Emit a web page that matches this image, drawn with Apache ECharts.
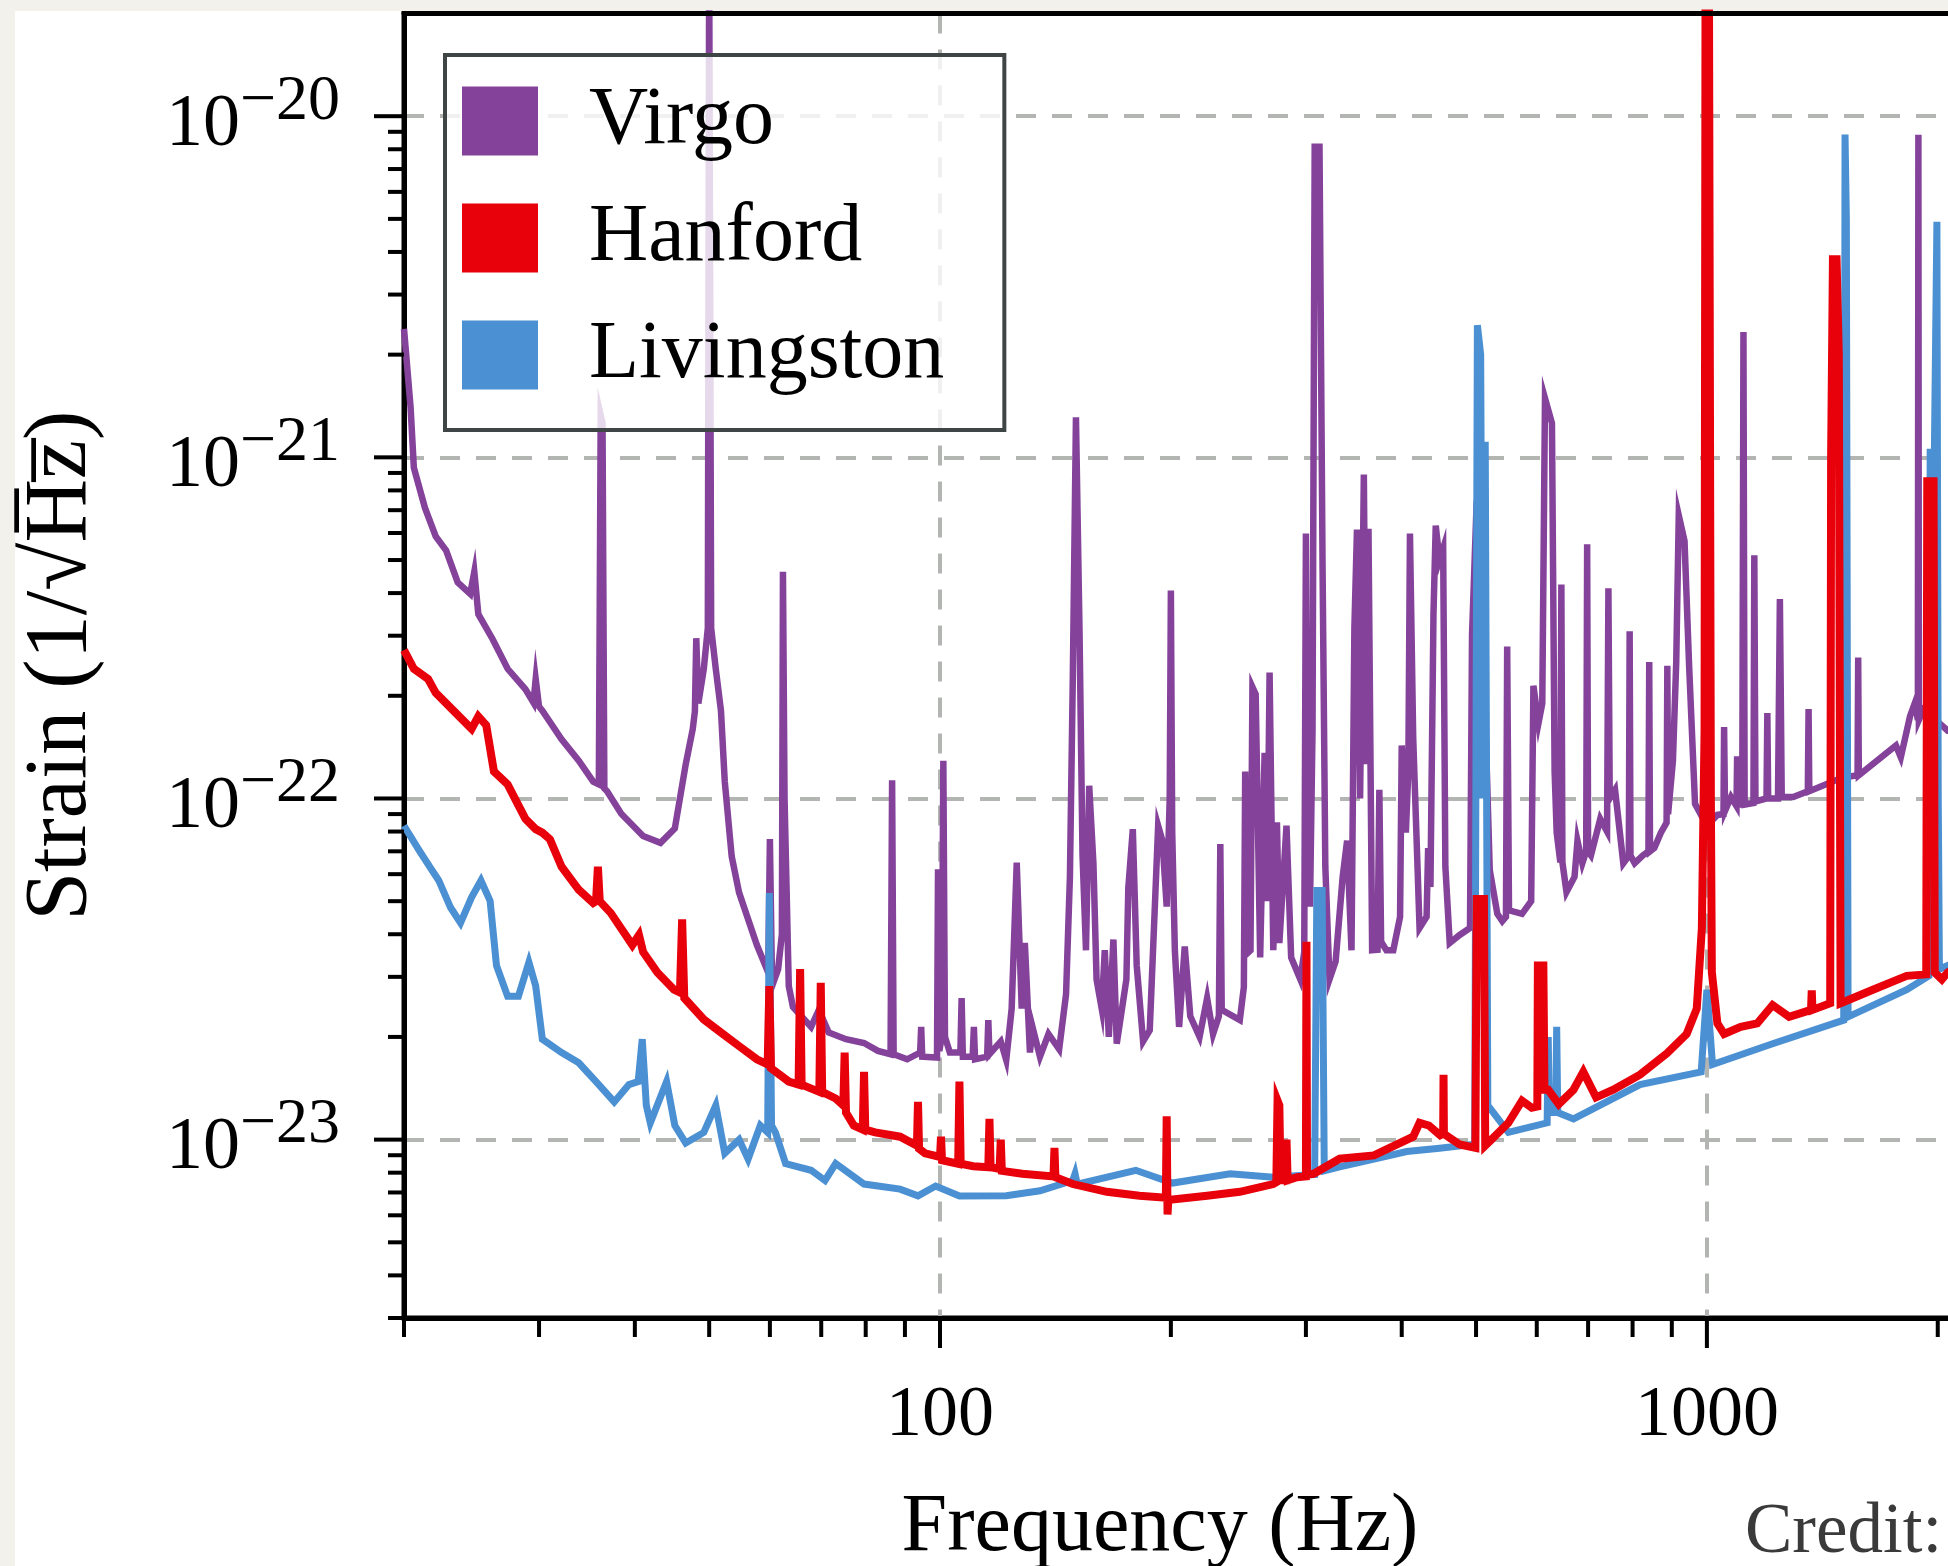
<!DOCTYPE html>
<html>
<head>
<meta charset="utf-8">
<title>Strain noise</title>
<script src="https://cdn.jsdelivr.net/npm/echarts@6/dist/echarts.min.js"></script>
<style>
html, body { margin: 0; padding: 0; background: #fff; }
#container { width: 1948px; height: 1566px; }
</style>
</head>
<body>
<div id="container"></div>
<script>
// [frequency Hz, strain 1/sqrt(Hz)]
var virgo = [
	[20.0, 2.38e-21], [20.4, 1.40e-21], [20.6, 9.33e-22], [21.3, 7.11e-22], [22.0, 5.86e-22], [22.7, 5.33e-22],
	[23.5, 4.30e-22], [24.4, 3.98e-22], [24.7, 4.62e-22], [25.0, 3.47e-22], [26.1, 2.93e-22], [27.3, 2.40e-22],
	[28.8, 2.09e-22], [29.5, 1.91e-22], [29.7, 2.24e-22], [30.0, 1.86e-22], [30.3, 1.81e-22], [32.1, 1.49e-22],
	[33.8, 1.29e-22], [35.3, 1.12e-22], [35.9, 1.10e-22], [36.1, 1.33e-21], [36.3, 1.26e-21], [36.5, 1.07e-22],
	[36.8, 1.05e-22], [38.4, 9.02e-23], [41.0, 7.76e-23], [43.2, 7.41e-23], [45.1, 8.17e-23], [46.6, 1.26e-22],
	[47.6, 1.60e-22], [47.9, 1.80e-22], [48.1, 2.95e-22], [48.4, 1.90e-22], [49.2, 2.40e-22], [49.8, 3.16e-22],
	[50.0, 3.0e-20], [50.3, 3.16e-22], [51.0, 2.40e-22], [51.8, 1.81e-22], [52.4, 1.12e-22], [53.5, 6.76e-23],
	[54.7, 5.30e-23], [57.7, 3.72e-23], [59.7, 3.09e-23], [60.0, 7.6e-23], [60.4, 2.82e-23], [61.5, 3.16e-23],
	[62.2, 4.0e-23], [62.4, 4.62e-22], [62.7, 1.0e-22], [63.5, 2.82e-23], [64.3, 2.45e-23], [67.9, 2.14e-23],
	[69.5, 2.40e-23], [71.6, 2.06e-23], [75.4, 1.97e-23], [79.6, 1.92e-23], [83.0, 1.82e-23], [86.2, 1.78e-23],
	[86.6, 1.13e-22], [87.0, 1.78e-23], [90.6, 1.72e-23], [94.2, 1.80e-23], [94.5, 2.14e-23], [94.8, 1.75e-23],
	[99.1, 1.74e-23], [99.4, 6.2e-23], [99.8, 1.82e-23], [100.5, 2.0e-23], [101.0, 1.29e-22], [101.5, 2.0e-23],
	[103, 1.80e-23], [106.3, 1.80e-23], [106.7, 2.60e-23], [107.1, 1.75e-23], [110.3, 1.75e-23], [110.7, 2.14e-23],
	[111.1, 1.72e-23], [115.2, 1.75e-23], [115.6, 2.24e-23], [116, 1.78e-23], [120, 1.94e-23], [122, 1.71e-23],
	[124, 2.42e-23], [125.9, 6.49e-23], [127.8, 2.42e-23], [129, 3.77e-23], [131, 1.80e-23], [132, 2.14e-23],
	[135, 1.75e-23], [138.5, 2.04e-23], [143, 1.84e-23], [146, 2.67e-23], [147.7, 5.89e-23], [149, 2.29e-22],
	[150.4, 1.31e-21], [152, 3.16e-22], [153.4, 6.81e-23], [155, 3.59e-23], [156.5, 1.09e-22], [158.5, 6.46e-23],
	[160, 2.95e-23], [162.5, 2.42e-23], [164, 3.59e-23], [166, 2.0e-23], [168.3, 3.86e-23], [170, 1.91e-23],
	[175, 2.95e-23], [176, 5.46e-23], [178.4, 8.13e-23], [180.5, 3.24e-23], [184, 1.94e-23], [187.7, 2.09e-23],
	[190.6, 4.82e-23], [192.5, 8.32e-23], [195, 7.52e-23], [197.5, 4.82e-23], [199.3, 1.0e-22], [200, 4.07e-22],
	[200.8, 8.0e-23], [202.4, 3.59e-23], [205, 2.14e-23], [208.5, 3.68e-23], [212, 2.30e-23], [218, 2.0e-23],
	[223, 2.60e-23], [227, 2.04e-23], [231, 2.3e-23], [232, 7.35e-23], [233, 2.4e-23], [246, 2.24e-23],
	[249, 2.8e-23], [250, 1.20e-22], [251, 3.5e-23], [254, 3.59e-23], [255.5, 2.12e-22], [258, 2.02e-22],
	[261.5, 3.42e-23], [265, 1.36e-22], [267, 5.0e-23], [269, 2.34e-22], [272, 3.59e-23], [275, 8.51e-23],
	[277, 3.77e-23], [283, 8.32e-23], [287, 3.42e-23], [295, 2.95e-23], [298.5, 3.55e-23], [300, 5.98e-22],
	[301.5, 6.0e-23], [303.7, 4.82e-23], [306, 1.58e-22], [308, 8.13e-21], [312.5, 8.13e-21], [315.4, 4.68e-22],
	[318, 6.31e-23], [322, 2.95e-23], [328, 3.33e-23], [335, 5.89e-23], [339.5, 7.52e-23], [344, 3.59e-23],
	[347, 3.16e-22], [349.7, 6.14e-22], [353, 1.0e-22], [357, 8.91e-22], [359.5, 1.26e-22], [362, 6.17e-22],
	[366, 3.59e-23], [372, 3.6e-23], [374, 1.06e-22], [376, 3.8e-23], [382, 3.59e-23], [390, 3.59e-23],
	[398, 4.5e-23], [400, 1.43e-22], [405, 7.94e-23], [408, 1.2e-22], [410, 5.98e-22], [414, 1.51e-22],
	[422, 4.17e-23], [431, 4.5e-23], [433, 7.16e-23], [436, 5.5e-23], [440, 3.47e-22], [443, 6.31e-22],
	[448, 5.01e-22], [453, 5.42e-22], [456, 6.31e-23], [462, 3.77e-23], [476, 3.98e-23], [491, 4.17e-23],
	[494, 3.02e-22], [501, 7.46e-22], [508, 1.01e-22], [515, 1.50e-22], [521, 6.17e-23], [533, 4.59e-23],
	[541, 4.37e-23], [547, 4.5e-23], [549, 2.79e-22], [552, 4.7e-23], [574, 4.59e-23], [590, 5.0e-23],
	[594, 2.14e-22], [603, 1.66e-22], [610, 1.9e-22], [615, 1.49e-21], [628, 1.26e-21], [633, 1.2e-22],
	[637, 7.94e-23], [644, 6.5e-23], [646, 4.24e-22], [648, 6.5e-23], [656, 5.32e-23], [672, 5.89e-23],
	[678, 7.52e-23], [688, 6.46e-23], [696, 7.0e-23], [698, 5.56e-22], [700, 7.0e-23], [706, 6.81e-23],
	[726, 8.71e-23], [741, 8.0e-23], [744, 4.13e-22], [747, 1.0e-22], [759, 1.06e-22], [778, 6.46e-23],
	[791, 6.8e-23], [793, 3.09e-22], [795, 6.8e-23], [805, 6.46e-23], [825, 6.81e-23], [839, 7.0e-23],
	[841, 2.51e-22], [843, 7.0e-23], [854, 7.16e-23], [871, 7.94e-23], [886, 8.5e-23], [888, 2.45e-22],
	[890, 9.0e-23], [903, 1.29e-22], [912, 2.5e-22], [919, 6.76e-22], [935, 5.69e-22], [948, 2.45e-22],
	[965, 9.64e-23], [1000, 8.32e-23], [1032, 8.95e-23], [1051, 9.0e-23], [1053, 1.62e-22], [1056, 9.2e-23],
	[1075, 1.01e-22], [1093, 9.5e-23], [1095, 1.33e-22], [1098, 9.6e-23], [1112, 9.6e-23], [1116, 2.33e-21],
	[1120, 9.6e-23], [1150, 9.7e-23], [1153, 5.16e-22], [1157, 9.8e-23], [1196, 1.0e-22], [1199, 1.78e-22],
	[1202, 1.0e-22], [1238, 1.0e-22], [1245, 3.84e-22], [1252, 1.01e-22], [1296, 1.01e-22], [1354, 1.05e-22],
	[1357, 1.83e-22], [1360, 1.05e-22], [1499, 1.15e-22], [1572, 1.17e-22], [1575, 2.59e-22], [1578, 1.17e-22],
	[1764, 1.43e-22], [1790, 1.32e-22], [1840, 1.74e-22], [1868, 1.91e-22], [1884, 1.7e-22], [1887, 8.83e-21],
	[1890, 1.7e-22], [1915, 1.82e-22], [2011, 1.66e-22], [2061, 1.58e-22], [2100, 1.58e-22]
];

var hanford = [
	[20.0, 2.72e-22], [20.6, 2.40e-22], [21.5, 2.24e-22], [22.0, 2.04e-22], [23.2, 1.81e-22], [24.5, 1.60e-22],
	[25.0, 1.74e-22], [25.6, 1.64e-22], [26.2, 1.20e-22], [27.3, 1.10e-22], [28.2, 9.55e-23], [28.8, 8.71e-23],
	[29.7, 8.13e-23], [30.3, 7.94e-23], [31.0, 7.59e-23], [32.1, 6.31e-23], [33.8, 5.40e-23], [35.3, 4.94e-23],
	[35.6, 5.0e-23], [35.8, 6.31e-23], [36.0, 5.0e-23], [37.2, 4.62e-23], [39.7, 3.72e-23], [40.5, 3.98e-23],
	[41.0, 3.55e-23], [42.8, 3.09e-23], [45.0, 2.75e-23], [45.8, 2.7e-23], [46.1, 4.42e-23], [46.4, 2.6e-23],
	[49.2, 2.25e-23], [51.8, 2.06e-23], [54.7, 1.88e-23], [57.7, 1.72e-23], [59.6, 1.66e-23], [59.9, 2.82e-23],
	[60.2, 1.62e-23], [63.5, 1.48e-23], [65.4, 1.45e-23], [65.7, 3.16e-23], [66.0, 1.45e-23], [69.6, 1.38e-23],
	[69.9, 2.88e-23], [70.2, 1.38e-23], [73.1, 1.32e-23], [74.8, 1.26e-23], [75.1, 1.80e-23], [75.4, 1.2e-23],
	[77.2, 1.10e-23], [79.3, 1.07e-23], [79.6, 1.58e-23], [79.9, 1.07e-23], [82.3, 1.05e-23], [88.7, 1.02e-23],
	[93.3, 9.6e-24], [93.6, 1.29e-23], [93.9, 9.4e-24], [95.6, 9.12e-24], [100.0, 8.9e-24], [100.3, 1.02e-23],
	[100.6, 8.7e-24], [105.6, 8.5e-24], [106.0, 1.48e-23], [106.4, 8.5e-24], [110.5, 8.36e-24], [115.6, 8.3e-24],
	[116.0, 1.15e-23], [116.4, 8.3e-24], [119.6, 8.2e-24], [120.0, 1.0e-23], [120.4, 8.1e-24], [128, 7.94e-24],
	[140.6, 7.8e-24], [141, 9.46e-24], [141.4, 7.76e-24], [149, 7.41e-24], [165, 7.03e-24], [182, 6.85e-24],
	[197, 6.76e-24], [197.5, 1.17e-23], [198, 6.03e-24], [198.5, 6.7e-24], [201, 6.68e-24], [223, 6.85e-24],
	[246, 7.03e-24], [272, 7.41e-24], [274.5, 7.5e-24], [275.5, 1.30e-23], [277, 1.26e-23], [278, 7.6e-24],
	[282.5, 7.6e-24], [283, 1.0e-23], [284, 7.6e-24], [292, 7.76e-24], [300, 7.8e-24], [300.5, 3.80e-23],
	[301, 7.9e-24], [307, 7.94e-24], [332, 8.79e-24], [368, 8.99e-24], [414, 1.02e-23], [422, 1.12e-23],
	[434, 1.10e-23], [449, 1.03e-23], [453, 1.04e-23], [453.5, 1.55e-23], [454, 1.04e-23], [476, 9.68e-24],
	[499, 9.46e-24], [501, 5.07e-23], [512, 5.07e-23], [514, 9.6e-24], [522, 9.93e-24], [551, 1.12e-23],
	[574, 1.30e-23], [591, 1.24e-23], [601, 1.25e-23], [602, 3.24e-23], [612, 3.24e-23], [614, 1.4e-23],
	[621, 1.40e-23], [641, 1.27e-23], [670, 1.40e-23], [690, 1.58e-23], [717, 1.33e-23], [755, 1.40e-23],
	[818, 1.55e-23], [887, 1.79e-23], [941, 2.04e-23], [970, 2.42e-23], [985, 4.17e-23], [993, 1.58e-22],
	[996, 3.0e-20], [1006, 3.0e-20], [1012, 1.0e-22], [1015, 3.09e-23], [1032, 2.19e-23], [1053, 2.04e-23],
	[1107, 2.14e-23], [1163, 2.19e-23], [1218, 2.48e-23], [1280, 2.29e-23], [1367, 2.4e-23], [1370, 2.74e-23],
	[1373, 2.4e-23], [1448, 2.51e-23], [1452, 1.0e-21], [1460, 3.81e-21], [1476, 3.81e-21], [1486, 2.0e-21],
	[1494, 2.51e-23], [1513, 2.54e-23], [1640, 2.74e-23], [1822, 3.02e-23], [1932, 3.05e-23], [1938, 8.51e-22],
	[1975, 8.51e-22], [1982, 3.09e-23], [2025, 2.95e-23], [2061, 3.09e-23], [2100, 3.16e-23]
];

var livingston = [
	[20.0, 8.32e-23], [20.9, 7.08e-23], [21.6, 6.31e-23], [22.2, 5.75e-23], [23.0, 4.79e-23], [23.7, 4.32e-23],
	[24.5, 5.13e-23], [25.2, 5.75e-23], [25.9, 5.01e-23], [26.4, 3.24e-23], [27.3, 2.63e-23], [28.2, 2.63e-23],
	[29.1, 3.31e-23], [29.7, 2.82e-23], [30.3, 1.97e-23], [32.1, 1.80e-23], [33.8, 1.68e-23], [35.6, 1.48e-23],
	[37.6, 1.29e-23], [39.3, 1.45e-23], [40.4, 1.48e-23], [40.9, 1.97e-23], [41.4, 1.26e-23], [41.9, 1.12e-23],
	[44.0, 1.48e-23], [45.1, 1.10e-23], [46.6, 9.77e-24], [49.2, 1.05e-23], [51.0, 1.26e-23], [52.4, 9.12e-24],
	[54.7, 1.0e-23], [56.2, 8.77e-24], [58.3, 1.10e-23], [59.6, 1.05e-23], [59.9, 5.28e-23], [60.3, 1.1e-23],
	[61.0, 1.05e-23], [62.9, 8.51e-24], [67.9, 8.13e-24], [70.8, 7.59e-24], [73.1, 8.51e-24], [79.6, 7.41e-24],
	[88.7, 7.16e-24], [93.6, 6.84e-24], [98.7, 7.31e-24], [106, 6.84e-24], [122, 6.85e-24], [135, 7.08e-24],
	[149, 7.59e-24], [150, 7.94e-24], [151, 7.4e-24], [180, 8.13e-24], [201, 7.46e-24], [239, 7.94e-24],
	[272, 7.76e-24], [308, 7.9e-24], [310, 5.37e-23], [315, 5.37e-23], [317, 8.1e-24], [332, 8.32e-24],
	[368, 8.77e-24], [406, 9.23e-24], [448, 9.44e-24], [498, 9.7e-24], [502, 2.44e-21], [507, 2.0e-21],
	[510, 1.0e-22], [514, 1.11e-21], [518, 1.26e-23], [551, 1.05e-23], [619, 1.12e-23], [621, 2.0e-23],
	[623, 1.2e-23], [635, 1.2e-23], [637, 2.14e-23], [639, 1.2e-23], [670, 1.15e-23], [818, 1.45e-23],
	[983, 1.58e-23], [1000, 2.75e-23], [1017, 1.66e-23], [1218, 1.91e-23], [1508, 2.24e-23], [1514, 8.83e-21],
	[1520, 5.01e-21], [1528, 2.29e-23], [1822, 2.75e-23], [1948, 3.02e-23], [1955, 1.06e-21], [1975, 6.31e-22],
	[1995, 4.90e-21], [2003, 1.0e-22], [2010, 3.16e-23], [2061, 3.24e-23], [2100, 3.31e-23]
];

// axis range and tick positions
var xMin = 20, xMax = 2100;
var yMin = 3e-24, yMax = 2e-20;
var xMajorTicks = [100, 1000];
var xMinorTicks = [20, 30, 40, 50, 60, 70, 80, 90, 200, 300, 400, 500, 600, 700, 800, 900, 2000];
var yMajorTicks = [1e-23, 1e-22, 1e-21, 1e-20];
var yMinorTicks = [3e-24, 4e-24, 5e-24, 6e-24, 7e-24, 8e-24, 9e-24,
	2e-23, 3e-23, 4e-23, 5e-23, 6e-23, 7e-23, 8e-23, 9e-23,
	2e-22, 3e-22, 4e-22, 5e-22, 6e-22, 7e-22, 8e-22, 9e-22,
	2e-21, 3e-21, 4e-21, 5e-21, 6e-21, 7e-21, 8e-21, 9e-21];

var FONT = '"Liberation Serif", "DejaVu Serif", serif';
var colVirgo = '#84429a', colHanford = '#e8000b', colLiv = '#4a90d2';
var gridLine = { color: '#b3b5b3', width: 4, type: [20, 16] };

function isPow10(v) {
	var e = Math.log10(v);
	return Math.abs(e - Math.round(e)) < 1e-6;
}

// draws tick marks through the axes' scales (outside the plot)
function tickSeries(values, onX, len, width) {
	var data = [];
	for (var i = 0; i < values.length; i++) {
		data.push(onX ? [values[i], yMin] : [xMin, values[i]]);
	}
	return {
		type: 'custom', silent: true, clip: false, z: 6, data: data,
		renderItem: function (params, api) {
			var p = api.coord([api.value(0), api.value(1)]);
			var shape = onX ? { x1: p[0], y1: p[1], x2: p[0], y2: p[1] + len }
				: { x1: p[0] - len, y1: p[1], x2: p[0], y2: p[1] };
			return { type: 'line', shape: shape, style: { stroke: '#000', lineWidth: width } };
		}
	};
}

function lineSeries(name, data, color, width) {
	return {
		name: name, type: 'line', data: data, symbol: 'none', showSymbol: false, silent: true,
		itemStyle: { color: color }, lineStyle: { color: color, width: width, join: 'miter' },
		emphasis: { disabled: true }
	};
}

var dom = document.getElementById('container');
var myChart = echarts.init(dom, null, { renderer: 'canvas' });

var option = {
	backgroundColor: '#fff',
	animation: false,
	graphic: [
		{ type: 'rect', left: 0, top: 0, z: 0, shape: { width: 15, height: 1566 }, style: { fill: '#f3f1eb' } },
		{ type: 'rect', left: 0, top: 0, z: 0, shape: { width: 1948, height: 11 }, style: { fill: '#f3f1eb' } },
		{ type: 'text', left: 1745, top: 1498, z: 10,
			style: { text: 'Credit:', fontSize: 71, fontFamily: FONT, fill: '#3a3a3a' } }
	],
	legend: {
		data: ['Virgo', 'Hanford', 'Livingston'],
		orient: 'vertical', left: 445, top: 55,
		icon: 'rect', itemWidth: 76, itemHeight: 69, itemGap: 35,
		padding: [25, 60, 34, 17],
		backgroundColor: 'rgba(255,255,255,0.8)',
		borderColor: '#3f4444', borderWidth: 4, borderRadius: 0,
		selectedMode: false,
		itemStyle: { borderWidth: 0 },
		textStyle: { fontSize: 82, fontFamily: FONT, color: '#000', lineHeight: 69, padding: [0, 0, 0, 46] }
	},
	grid: {
		left: 404, right: -6, top: 13.5, bottom: 248,
		containLabel: false, outerBoundsMode: 'none',
		show: true, backgroundColor: '#fff', borderColor: '#000', borderWidth: 5
	},
	xAxis: [{
		type: 'log', min: xMin, max: xMax,
		axisLine: { show: true, lineStyle: { color: '#000', width: 5 } },
		axisTick: { show: false },
		splitLine: { show: true, showMinLine: false, showMaxLine: false, lineStyle: gridLine },
		axisLabel: {
			margin: 62, fontSize: 72, fontFamily: FONT, color: '#000',
			formatter: function (v) { return isPow10(v) ? String(Math.round(v)) : ''; }
		},
		name: 'Frequency (Hz)', nameLocation: 'middle', nameGap: 169, nameMoveOverlap: false,
		nameTextStyle: { fontSize: 82, fontFamily: FONT, color: '#000', padding: [0, 38, 0, 0] }
	}, {
		// top spine only
		type: 'log', min: xMin, max: xMax, position: 'top', z: 4,
		axisLine: { show: true, lineStyle: { color: '#000', width: 5 } },
		axisTick: { show: false }, axisLabel: { show: false }, splitLine: { show: false }
	}],
	yAxis: {
		type: 'log', min: yMin, max: yMax,
		axisLine: { show: true, lineStyle: { color: '#000', width: 5 } },
		axisTick: { show: false },
		splitLine: { show: true, showMinLine: false, showMaxLine: false, lineStyle: gridLine },
		axisLabel: {
			margin: 64, color: '#000',
			formatter: function (v) {
				if (!isPow10(v)) return '';
				return '{b|10}{e|\u2212' + (-Math.round(Math.log10(v))) + '}';
			},
			rich: {
				b: { fontSize: 74, fontFamily: FONT, color: '#000', lineHeight: 92, verticalAlign: 'bottom' },
				e: { fontSize: 64, fontFamily: FONT, color: '#000', lineHeight: 60, verticalAlign: 'top' }
			}
		},
		name: 'Strain (1/\u221AH\u0305z\u0305)', nameLocation: 'middle', nameGap: 298, nameMoveOverlap: false,
		nameTextStyle: { fontSize: 88, fontFamily: FONT, color: '#000' }
	},
	series: [
		lineSeries('Virgo', virgo, colVirgo, 6.5),
		lineSeries('Livingston', livingston, colLiv, 7),
		lineSeries('Hanford', hanford, colHanford, 8),
		tickSeries(xMajorTicks, true, 30, 4),
		tickSeries(xMinorTicks, true, 19, 4),
		tickSeries(yMajorTicks, false, 30, 4),
		tickSeries(yMinorTicks, false, 16, 4)
	]
};

myChart.setOption(option);
</script>
</body>
</html>
